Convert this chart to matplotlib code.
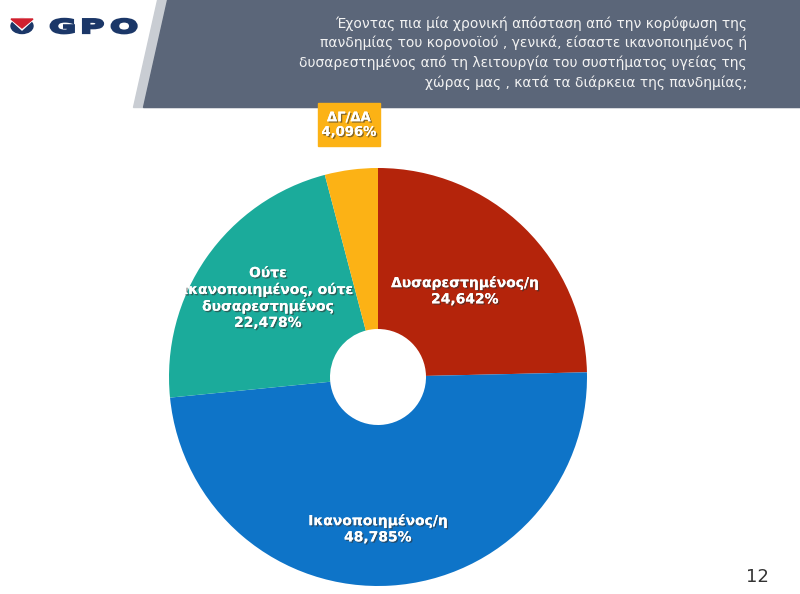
import numpy as np
import matplotlib.pyplot as plt
import matplotlib.patheffects as pe
from matplotlib.patches import Polygon, Ellipse, Rectangle, PathPatch
from matplotlib.textpath import TextPath
from matplotlib.font_manager import FontProperties
from matplotlib.transforms import Affine2D

# data
categories = ["Δυσαρεστημένος/η", "Ικανοποιημένος/η",
              "Ούτε\nικανοποιημένος, ούτε\nδυσαρεστημένος", "ΔΓ/ΔΑ"]
values = [24.642, 48.785, 22.478, 4.096]
colors = ["#b4240b", "#0e74c8", "#1bab9b", "#fcb215"]

title = ("Έχοντας πια μία χρονική απόσταση από την κορύφωση της\n"
         "πανδημίας του κορονοϊού , γενικά, είσαστε ικανοποιημένος ή\n"
         "δυσαρεστημένος από τη λειτουργία του συστήματος υγείας της\n"
         "χώρας μας , κατά τα διάρκεια της πανδημίας;")

W, H = 800, 594

def Y(y):
    return H - y

fig = plt.figure(figsize=(8, 5.94), dpi=100)
ax = fig.add_axes([0, 0, 1, 1])

# header band
ax.add_patch(Polygon([(157, Y(0)), (W, Y(0)), (W, Y(107)), (133, Y(107))],
                     closed=True, color="#c9cdd3", zorder=1))
ax.add_patch(Polygon([(167, Y(0)), (W, Y(0)), (W, Y(107)), (143, Y(107))],
                     closed=True, color="#5b6679", zorder=2))
ax.text(747, Y(53), title, ha="right", va="center", fontsize=10,
        color="#f2f2f2", linespacing=1.45, zorder=3)

# logo
navy = "#1b3768"
ax.add_patch(Ellipse((22, Y(26)), 22, 15, color=navy, zorder=3))
ax.add_patch(Polygon([(9, Y(18)), (22, Y(30)), (35, Y(18))], closed=True,
                     color="white", zorder=4))
ax.add_patch(Polygon([(11, Y(19)), (22, Y(28)), (33, Y(19))], closed=True,
                     color="#d0202e", zorder=5))
fp = FontProperties(family="DejaVu Sans", weight="bold")
for letter, lx in zip("GPO", [49, 80, 110]):
    tp = TextPath((0, 0), letter, size=19, prop=fp)
    tr = Affine2D().scale(1.75, 1.0).translate(lx, Y(33)) + ax.transData
    ax.add_patch(PathPatch(tp, facecolor=navy, edgecolor=navy, lw=1.6,
                           transform=tr, zorder=3))

# donut
cx, cy, r = 378, Y(377), 209
wedges, _ = ax.pie(values, colors=colors, startangle=90, counterclock=False,
                   center=(cx, cy), radius=r,
                   wedgeprops=dict(width=r - 48, linewidth=0))
for w in wedges:
    w.set_zorder(2)

shadow = [pe.withSimplePatchShadow(offset=(1, -1), shadow_rgbFace="#333333",
                                    alpha=0.6), pe.Normal()]
label_pos = [(465, 291), (378, 529), (268, 298)]
for i, (x, y) in enumerate(label_pos):
    ax.text(x, Y(y), f"{categories[i]}\n{values[i]:.3f}%".replace(".", ","),
            ha="center", va="center", fontsize=10, fontweight="bold",
            color="white", linespacing=1.2, zorder=5, path_effects=shadow)

# ΔΓ/ΔΑ box
ax.add_patch(Rectangle((318, Y(146)), 62, 43, color=colors[3], zorder=4))
ax.text(349, Y(125), f"{categories[3]}\n{values[3]:.3f}%".replace(".", ","),
        ha="center", va="center", fontsize=9.5, fontweight="bold",
        color="white", linespacing=1.15, zorder=5, path_effects=shadow)

ax.text(757, Y(577), "12", ha="center", va="center", fontsize=13,
        color="#333333")

ax.set_xlim(0, W)
ax.set_ylim(0, H)
ax.set_aspect("auto")
ax.axis("off")

fig.savefig("out.png", dpi=100)
